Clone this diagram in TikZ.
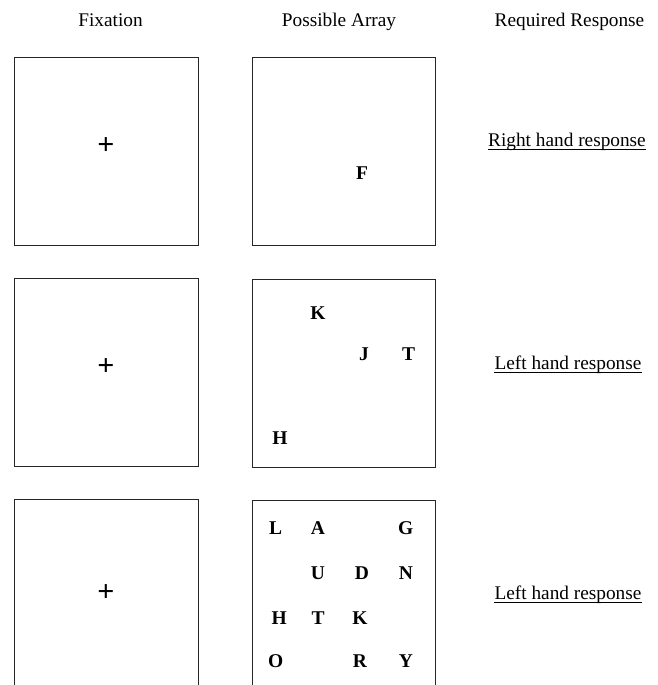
\documentclass[tikz,border=0pt]{standalone}
\usepackage{fontspec}
\setmainfont{Liberation Serif}
\usetikzlibrary{positioning}
\tikzset{
  heading/.style={anchor=base, inner sep=0pt, font=\fontsize{19.3}{23}\selectfont},
  response/.style={anchor=base, inner sep=0pt, font=\fontsize{19.3}{23}\selectfont},
  letter/.style={inner sep=0pt, font=\fontsize{19.5}{22}\selectfont\bfseries},
  crosshair/.style={inner sep=0pt, font=\fontsize{30}{30}\selectfont\bfseries},
  frame/.style={line width=0.9pt, black!85}
}
\begin{document}
\begin{tikzpicture}[x=1pt, y=-1pt]
  \useasboundingbox (0,0) rectangle (658,685);
  \clip (0,0) rectangle (658,685);

  %% --- Column headings ---
  \node[heading] (hfix) at (110.5, 26.5) {Fixation};
  \node[heading] (harr) at (339, 26.5) {Possible Array};
  \node[heading] (hresp) at (569.5, 26.5) {Required Response};

  %% --- Frames: fixation and array, three rows ---
  \foreach \top/\atop in {57/57.5, 278/279.5, 499.5/500.5} {
    \draw[frame] (14.5, \top) rectangle (198.5, \top+188.5);
    \draw[frame] (252.5, \atop) rectangle (435.5, \atop+188);
  }

  %% --- Fixation crosses ---
  \node[crosshair] (fix1) at (106, 146) {+};
  \node[crosshair] (fix2) at (106, 367) {+};
  \node[crosshair] (fix3) at (106, 593) {+};

  %% --- Array 1 ---
  \node[letter] (a1F) at (362, 173) {F};

  %% --- Array 2 ---
  \node[letter] (a2K) at (318, 313) {K};
  \node[letter] (a2J) at (364, 354) {J};
  \node[letter] (a2T) at (408.5, 354) {T};
  \node[letter] (a2H) at (280, 438) {H};

  %% --- Array 3: 4 x 4 grid with gaps ---
  \foreach \ch/\x/\y in {L/275.7/528, A/318/528, G/405.7/528,
                         U/318/572.7, D/362/572.7, N/406/572.7,
                         H/279.3/618.3, T/318/618.3, K/360/618.3,
                         O/275.7/660.7, R/360/660.7, Y/406/660.7} {
    \node[letter] (a3\ch) at (\x, \y) {\ch};
  }

  %% --- Required responses (underlined) ---
  \node[response] (resp1) at (567, 146) {Right hand response};
  \node[response] (resp2) at (568, 369) {Left hand response};
  \node[response] (resp3) at (568, 599) {Left hand response};
  \foreach \r in {resp1, resp2, resp3} {
    \draw[line width=0.8pt] ([yshift=-3.5pt]\r.base west) -- ([yshift=-3.5pt]\r.base east);
  }
\end{tikzpicture}
\end{document}
